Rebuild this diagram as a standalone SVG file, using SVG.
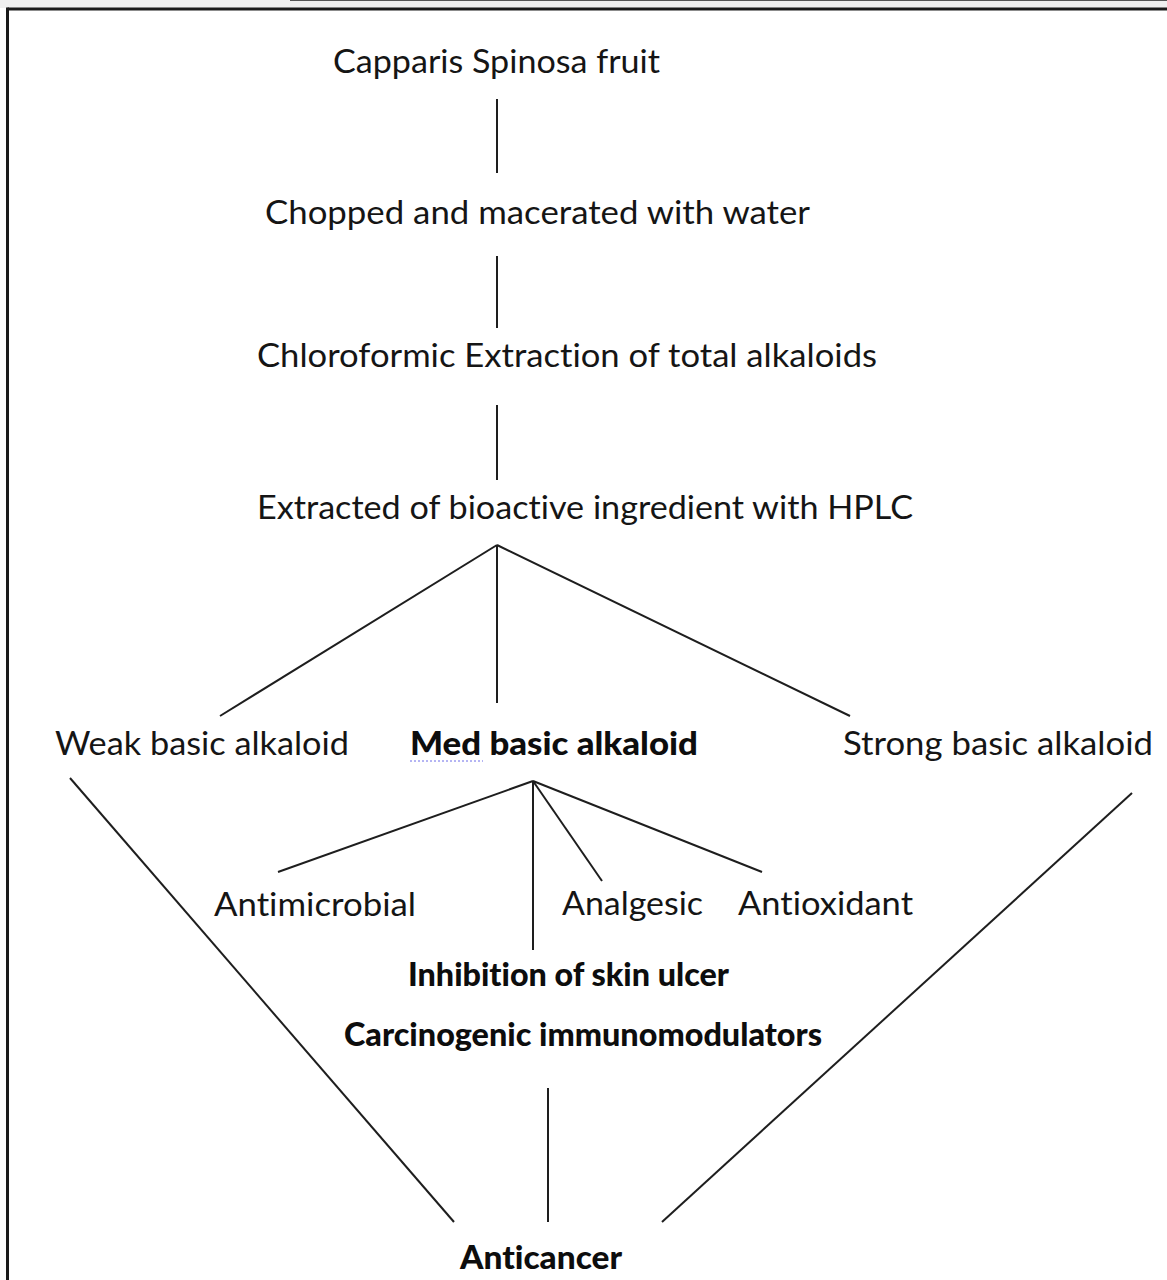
<svg xmlns="http://www.w3.org/2000/svg" width="1167" height="1280" viewBox="0 0 1167 1280">
<style>
.t{font-family:Lato,"Open Sans","Liberation Sans",sans-serif;font-size:33.5px;fill:#151515;font-variant-ligatures:none;font-feature-settings:"liga" 0,"clig" 0}
.b{font-family:Lato,"Open Sans","Liberation Sans",sans-serif;font-size:32px;font-weight:900;fill:#0d0d0d;font-variant-ligatures:none;font-feature-settings:"liga" 0,"clig" 0}
.c line{stroke:#1e1e1e;stroke-width:2;fill:none}
</style>
<rect x="0" y="0" width="1167" height="1280" fill="#ffffff"/>
<rect x="0" y="0" width="1167" height="8" fill="#efefef"/>
<line x1="290" y1="0.5" x2="1167" y2="0.5" stroke="#555" stroke-width="1"/>
<g id="frame">
<line x1="7.5" y1="9" x2="1167" y2="9" stroke="#1a1a1a" stroke-width="3"/>
<line x1="7.5" y1="7.5" x2="7.5" y2="1280" stroke="#1a1a1a" stroke-width="3"/>
</g>
<g class="c" id="connectors">
<line x1="497" y1="99" x2="497" y2="173"/>
<line x1="497" y1="256" x2="497" y2="328"/>
<line x1="497" y1="405" x2="497" y2="480"/>
<line x1="497" y1="545" x2="220" y2="716"/>
<line x1="497" y1="545" x2="497" y2="703"/>
<line x1="497" y1="545" x2="850" y2="716"/>
<line x1="70" y1="778" x2="454" y2="1222"/>
<line x1="1132" y1="793" x2="662" y2="1222"/>
<line x1="533" y1="781" x2="278" y2="872"/>
<line x1="533" y1="781" x2="533" y2="950"/>
<line x1="533" y1="781" x2="602" y2="881"/>
<line x1="533" y1="781" x2="762" y2="872"/>
<line x1="548" y1="1088" x2="548" y2="1222"/>
</g>
<g id="n1"><text class="t" x="333" y="73" textLength="327" lengthAdjust="spacingAndGlyphs">Capparis Spinosa fruit</text></g>
<g id="n2"><text class="t" x="265" y="224" textLength="545" lengthAdjust="spacingAndGlyphs">Chopped and macerated with water</text></g>
<g id="n3"><text class="t" x="257" y="367" textLength="620" lengthAdjust="spacingAndGlyphs">Chloroformic Extraction of total alkaloids</text></g>
<g id="n4"><text class="t" x="257" y="519" textLength="656" lengthAdjust="spacingAndGlyphs">Extracted of bioactive ingredient with HPLC</text></g>
<g id="n5"><text class="t" x="55" y="755" textLength="294" lengthAdjust="spacingAndGlyphs">Weak basic alkaloid</text></g>
<g id="n6"><text class="b" x="410" y="755" textLength="288" lengthAdjust="spacingAndGlyphs">Med basic alkaloid</text>
<line x1="410" y1="761" x2="483" y2="761" stroke="#6a6ae8" stroke-width="1" stroke-dasharray="2,2"/></g>
<g id="n7"><text class="t" x="843" y="755" textLength="310" lengthAdjust="spacingAndGlyphs">Strong basic alkaloid</text></g>
<g id="n8"><text class="t" x="214" y="916" textLength="202" lengthAdjust="spacingAndGlyphs">Antimicrobial</text></g>
<g id="n9"><text class="t" x="562" y="915" textLength="141" lengthAdjust="spacingAndGlyphs">Analgesic</text></g>
<g id="n10"><text class="t" x="738" y="915" textLength="175" lengthAdjust="spacingAndGlyphs">Antioxidant</text></g>
<g id="n11"><text class="b" x="408" y="986" textLength="321" lengthAdjust="spacingAndGlyphs">Inhibition of skin ulcer</text></g>
<g id="n12"><text class="b" x="344" y="1046" textLength="478" lengthAdjust="spacingAndGlyphs">Carcinogenic immunomodulators</text></g>
<g id="n13"><text class="b" x="460" y="1269" textLength="162" lengthAdjust="spacingAndGlyphs">Anticancer</text></g>
</svg>
